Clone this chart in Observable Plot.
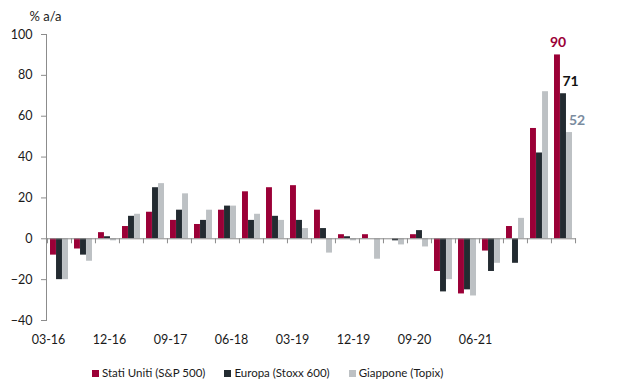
<!DOCTYPE html>
<html><head><meta charset="utf-8">
<script src="https://cdn.jsdelivr.net/npm/d3@7"></script>
<script src="https://cdn.jsdelivr.net/npm/@observablehq/plot@0.6"></script>
<style>
body{margin:0;background:#fff;font-family:Lato,sans-serif;}
#wrap{position:relative;width:620px;height:391px;overflow:hidden;}
#wrap svg{display:block;}
#legend{position:absolute;left:92px;top:365px;display:flex;font-size:11.5px;color:#1a1a1a;line-height:16px;white-space:nowrap;}
.item{display:flex;align-items:center;margin-right:19px;}
.sw{width:7px;height:7px;margin-right:3px;}
</style></head><body><div id="wrap"></div>
<script>
const quarters = ["03-16","06-16","09-16","12-16","03-17","06-17","09-17","12-17","03-18","06-18","09-18","12-18","03-19","06-19","09-19","12-19","03-20","06-20","09-20","12-20","03-21","06-21"];
const tickLabels = ["03-16","12-16","09-17","06-18","03-19","12-19","09-20","06-21"];
const seriesNames = ["Stati Uniti (S&P 500)","Europa (Stoxx 600)","Giappone (Topix)"];
const us = [-8,-5,3,6,13,9,7,14,23,25,26,14,2,2,0,2,-16,-27,-6,6,54,90];
const eu = [-20,-8,1,11,25,14,9,16,9,11,9,5,1,0,-1,4,-26,-25,-16,-12,42,71];
const jp = [-20,-11,-1,12,27,22,14,16,12,9,5,-7,-1,-10,-3,-4,-20,-28,-12,10,72,52];
const yTicks = [-40,-20,0,20,40,60,80,100];
const colors = ["#9b0037","#232b31","#bdc1c4"];
const labelColors = ["#9b0037","#111111","#7a8ca0"];

const W = 620, ML = 46, MR = 44;
const bw = (W - ML - MR) / quarters.length;
const series = [us, eu, jp];
const data = quarters.flatMap((q, i) => series.map((s, k) => ({q, k, name: seriesNames[k], v: s[i]})));
const last = quarters[quarters.length - 1];
const axisGray = "#8c8c8c";

const bars = series.map((s, k) => Plot.barY(data.filter(d => d.k === k), {
  x: "q", y: "v", fill: colors[k],
  insetLeft: bw * (1 + 2 * k) / 8, insetRight: bw * (5 - 2 * k) / 8
}));
const labelDx = [-5.5, 7, 13.5];
const labels = series.map((s, k) => Plot.text(data.filter(d => d.k === k && d.q === last), {
  x: "q", y: "v", text: d => String(d.v), fill: labelColors[k],
  dx: labelDx[k], dy: -12, fontSize: 14, fontWeight: "bold"
}));

const main = Plot.plot({
  width: W, height: 330,
  marginLeft: ML, marginRight: MR, marginTop: 34, marginBottom: 10,
  x: {type: "band", domain: quarters, padding: 0, axis: null},
  y: {domain: [-40, 100], axis: null},
  style: {fontFamily: "Lato, sans-serif", fontSize: "12px", background: "white", overflow: "visible"},
  marks: [
    Plot.frame({anchor: "left", stroke: axisGray}),
    Plot.axisY({ticks: yTicks, tickSize: 5, tickPadding: 9, stroke: axisGray, fill: "#1a1a1a", fontSize: 12.5, label: null}),
    ...bars,
    Plot.ruleY([0], {stroke: axisGray}),
    Plot.ruleX(quarters, {x: d => d, y1: 0, y2: 0, insetBottom: -5, dx: -bw / 2, stroke: axisGray}),
    Plot.ruleX([last], {x: d => d, y1: 0, y2: 0, insetBottom: -5, dx: bw / 2, stroke: axisGray}),
    ...labels,
    Plot.text(["% a/a"], {frameAnchor: "top-left", text: d => d, dx: -17, dy: -23, textAnchor: "start", fill: "#1a1a1a", fontSize: 13})
  ]
});

const xl = Plot.plot({
  width: W, height: 18,
  marginLeft: 48, marginRight: W - 475.5, marginTop: 0, marginBottom: 0,
  x: {type: "point", domain: tickLabels, padding: 0, axis: null},
  style: {fontFamily: "Lato, sans-serif", fontSize: "12px", background: "white", overflow: "visible"},
  marks: [Plot.text(tickLabels, {x: d => d, text: d => d, frameAnchor: "middle", fill: "#1a1a1a", fontSize: 12.5})]
});

const wrap = document.getElementById("wrap");
wrap.appendChild(main);
wrap.appendChild(xl);
const legend = document.createElement("div");
legend.id = "legend";
seriesNames.forEach((n, k) => {
  const it = document.createElement("div");
  it.className = "item";
  const sw = document.createElement("span");
  sw.className = "sw"; sw.style.background = colors[k];
  const t = document.createElement("span");
  t.textContent = n;
  it.appendChild(sw); it.appendChild(t);
  legend.appendChild(it);
});
wrap.appendChild(legend);
</script></body></html>
